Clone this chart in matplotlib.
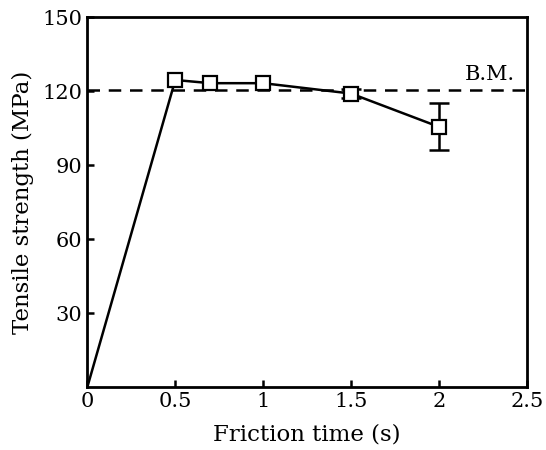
import numpy as np
import matplotlib.pyplot as plt

# friction time (s) vs tensile strength (MPa)
friction_time = [0, 0.5, 0.7, 1.0, 1.5, 2.0]
strength = [0, 124.5, 123.2, 123.2, 119.0, 105.5]
err = [0, 0, 0, 0, 2.0, 9.5]
base_metal = 120.5

plt.rcParams['font.family'] = 'DejaVu Serif'
plt.rcParams['font.size'] = 15

fig, ax = plt.subplots(figsize=(5.46, 4.5), dpi=100)
fig.subplots_adjust(left=0.16, right=0.965, bottom=0.14, top=0.962)

ax.plot(friction_time, strength, color='black', lw=1.8, zorder=2)
# error bars only where they were measured
ax.errorbar(friction_time[4:], strength[4:], yerr=err[4:], fmt='none',
            ecolor='black', elinewidth=1.8, capsize=7, capthick=1.8, zorder=2)
ax.plot(friction_time[1:], strength[1:], 's', ms=10, mfc='white', mec='black',
        mew=1.6, zorder=3)
ax.axhline(base_metal, color='black', ls=(0, (5, 3.5)), lw=1.8, zorder=1)
ax.text(2.43, 124.5, 'B.M.', ha='right', va='baseline', fontsize=15)

ax.set_xlim(0, 2.5)
ax.set_ylim(0, 150)
ax.set_xticks([0, 0.5, 1, 1.5, 2, 2.5])
ax.set_xticklabels(['0', '0.5', '1', '1.5', '2', '2.5'])
ax.set_yticks([30, 60, 90, 120, 150])
ax.tick_params(direction='in', length=5, width=1.8)
for s in ax.spines.values():
    s.set_linewidth(2)

ax.set_xlabel('Friction time (s)', fontsize=16.5, labelpad=9)
ax.set_ylabel('Tensile strength (MPa)', fontsize=16.5, labelpad=6)

fig.savefig('out.png')
